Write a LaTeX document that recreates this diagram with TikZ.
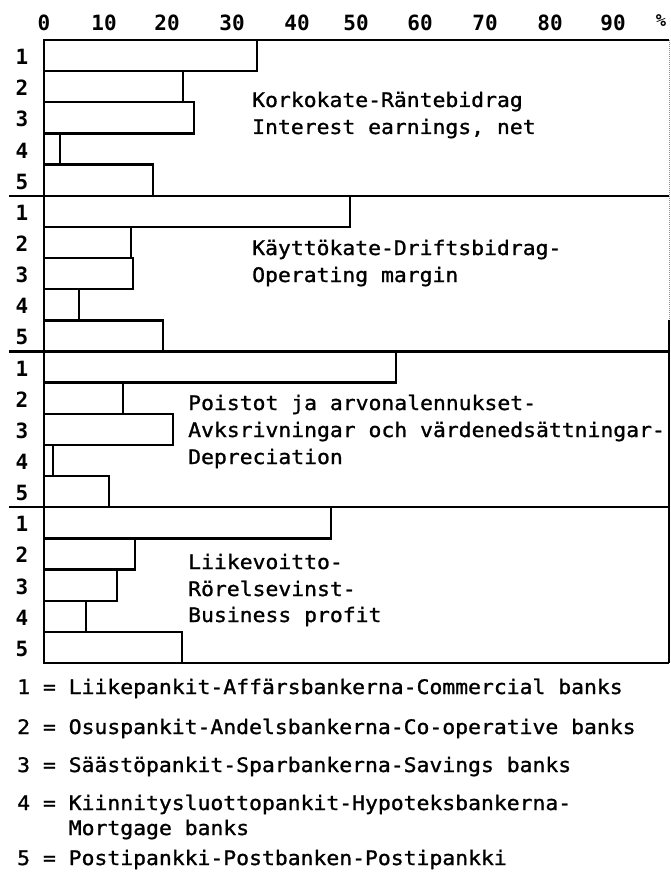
\documentclass[tikz,border=0pt]{standalone}
\usepackage{fontspec}
\setmainfont{DejaVu Sans Mono}
\newfontfamily\chartfont[FakeStretch=1.07,FakeBold=1.2]{DejaVu Sans Mono}
\newfontfamily\numfont{DejaVu Sans Mono Bold}
\begin{document}
\begin{tikzpicture}[x=1pt,y=-1pt,line width=2.4pt,
  txt/.style={anchor=base west,inner sep=0pt,font=\chartfont\fontsize{20}{22}\selectfont},
  axnum/.style={anchor=base,inner sep=0pt,font=\numfont\fontsize{21}{23}\selectfont},
  rownum/.style={anchor=base,inner sep=0pt,font=\numfont\fontsize{21}{23}\selectfont},
  barbox/.style={draw=black,line width=2.4pt,line join=miter},
  rule/.style={draw=black,line width=2.4pt}]
\useasboundingbox (0,0) rectangle (670,877);
% axis labels
\foreach \v/\xx in {0/44,10/104,20/167,30/232,40/297,50/356,60/420,70/485,80/550,90/613}
  \node[axnum] (ax\v) at (\xx,31) {\v};
\node[axnum,font=\numfont\fontsize{17}{19}\selectfont] (axpct) at (661,27) {\%};
% bars
\foreach \r/\e in {0/257,1/183,2/194,3/60,4/153,
                   5/350,6/131,7/133,8/79,9/163,
                   10/396,11/123,12/173,13/53,14/109,
                   15/331,16/135,17/117,18/86,19/182}
  \draw[barbox] (44,{40+31.15*\r}) rectangle (\e,{40+31.15*(\r+1)});
% row labels
\foreach \r/\n in {0/1,1/2,2/3,3/4,4/5,5/1,6/2,7/3,8/4,9/5,
                   10/1,11/2,12/3,13/4,14/5,15/1,16/2,17/3,18/4,19/5}
  \node[rownum] (rl\r) at (22,{40+31.15*(\r+0.5)+9}) {\n};
% frame and group separators
\draw[rule] (44,40) -- (669,40);
\draw[rule] (44,40) -- (44,663);
\draw[rule] (44,663) -- (669,663);
\foreach \g in {1,2,3}
  \draw[rule] (9,{40+155.75*\g}) -- (669,{40+155.75*\g});
\draw[black!45,line width=1pt,densely dotted] (669,40) -- (669,320);
\draw[rule] (669,320) -- (669,663);
% group titles
\node[txt] (t1a) at (251,107) {Korkokate-Räntebidrag};
\node[txt] (t1b) at (251,134) {Interest earnings, net};
\node[txt] (t2a) at (251,255) {Käyttökate-Driftsbidrag-};
\node[txt] (t2b) at (251,282) {Operating margin};
\node[txt] (t3a) at (187,410) {Poistot ja arvonalennukset-};
\node[txt] (t3b) at (187,437) {Avksrivningar och värdenedsättningar-};
\node[txt] (t3c) at (187,464) {Depreciation};
\node[txt] (t4a) at (187,569) {Liikevoitto-};
\node[txt] (t4b) at (187,596) {Rörelsevinst-};
\node[txt] (t4c) at (187,622) {Business profit};
% legend
\node[txt] (l1) at (16,694) {1 = Liikepankit-Affärsbankerna-Commercial banks};
\node[txt] (l2) at (16,734) {2 = Osuspankit-Andelsbankerna-Co-operative banks};
\node[txt] (l3) at (16,772) {3 = Säästöpankit-Sparbankerna-Savings banks};
\node[txt] (l4) at (16,810) {4 = Kiinnitysluottopankit-Hypoteksbankerna-};
\node[txt] (l4b) at (67.6,835) {Mortgage banks};
\node[txt] (l5) at (16,865) {5 = Postipankki-Postbanken-Postipankki};
\end{tikzpicture}
\end{document}
